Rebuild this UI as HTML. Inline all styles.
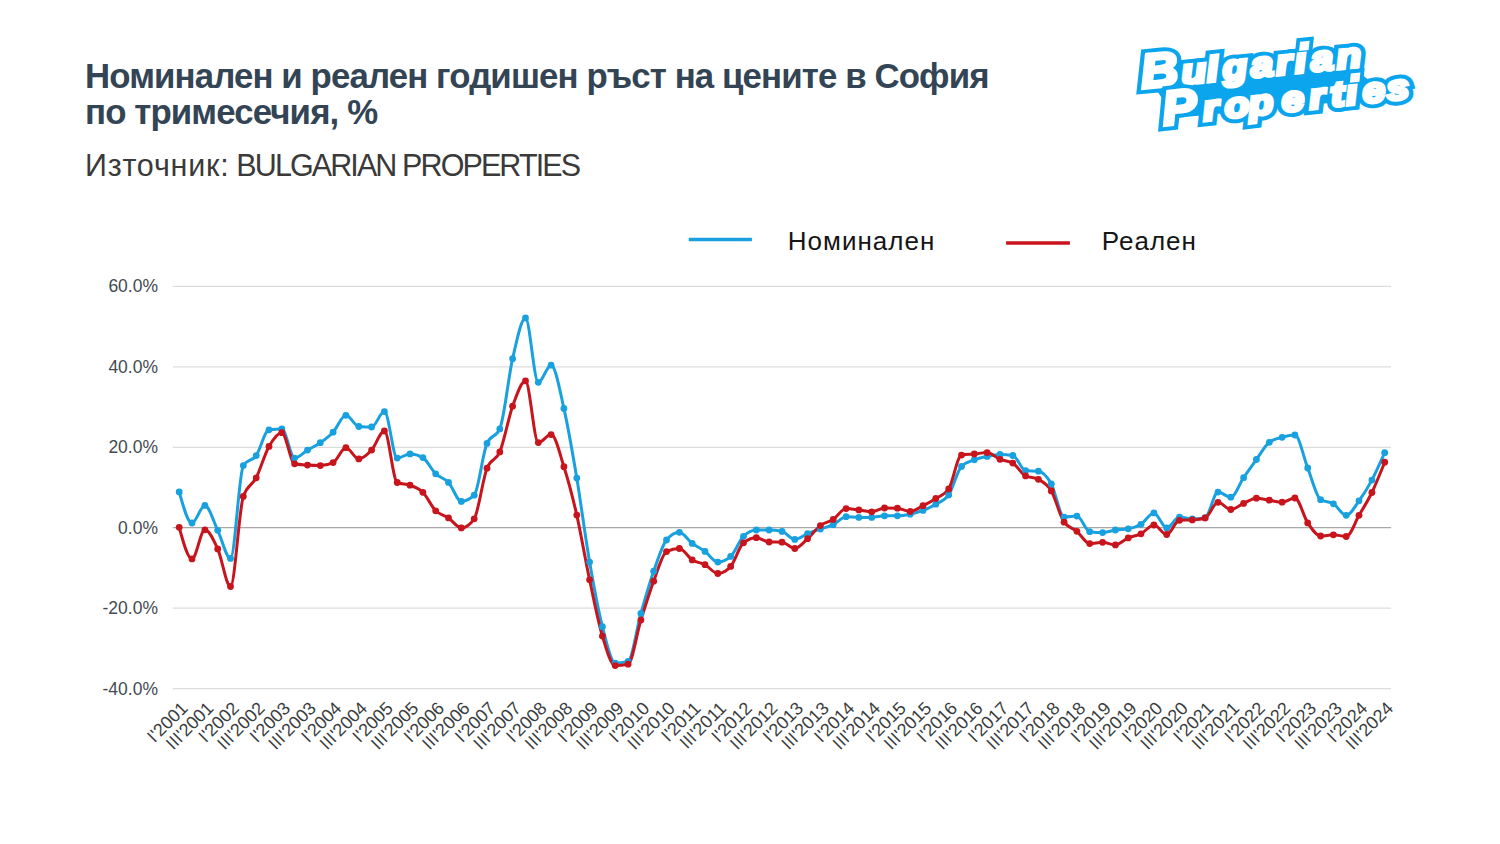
<!DOCTYPE html>
<html><head><meta charset="utf-8">
<style>
html,body{margin:0;padding:0;background:#fff;}
body{width:1500px;height:844px;overflow:hidden;position:relative;font-family:"Liberation Sans",sans-serif;}
.t1{position:absolute;left:85px;top:57.6px;font-size:34.8px;letter-spacing:-0.88px;font-weight:bold;color:#334455;line-height:36.8px;white-space:nowrap;}
.sub{position:absolute;left:85px;top:148px;font-size:30.5px;color:#3a3a3a;white-space:nowrap;}
svg{position:absolute;left:0;top:0;}
.yl{font-family:"Liberation Sans",sans-serif;font-size:17.5px;fill:#444a50;text-anchor:end;}
.xl{font-family:"Liberation Sans",sans-serif;font-size:18px;fill:#3a3d40;text-anchor:end;}
.lg{font-family:"Liberation Sans",sans-serif;font-size:26px;letter-spacing:1.0px;fill:#151515;}
.logo-o text,.logo-i text{font-family:"Liberation Sans",sans-serif;font-weight:bold;font-style:italic;}
.cap{font-size:48px;}
.lc{font-size:35px;}
.logo-o{fill:#0ba5ee;stroke:#0ba5ee;stroke-width:11.5;stroke-linejoin:miter;}
.logo-i{fill:#fff;stroke:#fff;stroke-width:3.6;stroke-linejoin:miter;}
</style></head><body>
<div class="t1">Номинален и реален годишен ръст на цените в София<br>по тримесечия, %</div>
<div class="sub"><span style="letter-spacing:0.78px">Източник:</span> <span style="letter-spacing:-1.9px;margin-left:-1.6px">BULGARIAN PROPERTIES</span></div>
<svg width="1500" height="844" viewBox="0 0 1500 844">
<line x1="172.8" y1="286.3" x2="1391.1" y2="286.3" stroke="#dcdcdc" stroke-width="1.2"/>
<text x="158" y="292.2" class="yl">60.0%</text>
<line x1="172.8" y1="366.8" x2="1391.1" y2="366.8" stroke="#dcdcdc" stroke-width="1.2"/>
<text x="158" y="372.7" class="yl">40.0%</text>
<line x1="172.8" y1="447.3" x2="1391.1" y2="447.3" stroke="#dcdcdc" stroke-width="1.2"/>
<text x="158" y="453.2" class="yl">20.0%</text>
<line x1="172.8" y1="527.7" x2="1391.1" y2="527.7" stroke="#a8a8a8" stroke-width="1.2"/>
<text x="158" y="533.6" class="yl">0.0%</text>
<line x1="172.8" y1="608.2" x2="1391.1" y2="608.2" stroke="#dcdcdc" stroke-width="1.2"/>
<text x="158" y="614.1" class="yl">-20.0%</text>
<line x1="172.8" y1="688.7" x2="1391.1" y2="688.7" stroke="#dcdcdc" stroke-width="1.2"/>
<text x="158" y="694.6" class="yl">-40.0%</text>
<text class="xl" transform="translate(188.8,709.3) rotate(-45)">I'2001</text>
<text class="xl" transform="translate(214.5,709.3) rotate(-45)">III'2001</text>
<text class="xl" transform="translate(240.1,709.3) rotate(-45)">I'2002</text>
<text class="xl" transform="translate(265.8,709.3) rotate(-45)">III'2002</text>
<text class="xl" transform="translate(291.4,709.3) rotate(-45)">I'2003</text>
<text class="xl" transform="translate(317.1,709.3) rotate(-45)">III'2003</text>
<text class="xl" transform="translate(342.7,709.3) rotate(-45)">I'2004</text>
<text class="xl" transform="translate(368.4,709.3) rotate(-45)">III'2004</text>
<text class="xl" transform="translate(394.0,709.3) rotate(-45)">I'2005</text>
<text class="xl" transform="translate(419.6,709.3) rotate(-45)">III'2005</text>
<text class="xl" transform="translate(445.3,709.3) rotate(-45)">I'2006</text>
<text class="xl" transform="translate(470.9,709.3) rotate(-45)">III'2006</text>
<text class="xl" transform="translate(496.6,709.3) rotate(-45)">I'2007</text>
<text class="xl" transform="translate(522.2,709.3) rotate(-45)">III'2007</text>
<text class="xl" transform="translate(547.9,709.3) rotate(-45)">I'2008</text>
<text class="xl" transform="translate(573.5,709.3) rotate(-45)">III'2008</text>
<text class="xl" transform="translate(599.2,709.3) rotate(-45)">I'2009</text>
<text class="xl" transform="translate(624.8,709.3) rotate(-45)">III'2009</text>
<text class="xl" transform="translate(650.5,709.3) rotate(-45)">I'2010</text>
<text class="xl" transform="translate(676.1,709.3) rotate(-45)">III'2010</text>
<text class="xl" transform="translate(701.8,709.3) rotate(-45)">I'2011</text>
<text class="xl" transform="translate(727.4,709.3) rotate(-45)">III'2011</text>
<text class="xl" transform="translate(753.1,709.3) rotate(-45)">I'2012</text>
<text class="xl" transform="translate(778.7,709.3) rotate(-45)">III'2012</text>
<text class="xl" transform="translate(804.4,709.3) rotate(-45)">I'2013</text>
<text class="xl" transform="translate(830.0,709.3) rotate(-45)">III'2013</text>
<text class="xl" transform="translate(855.7,709.3) rotate(-45)">I'2014</text>
<text class="xl" transform="translate(881.3,709.3) rotate(-45)">III'2014</text>
<text class="xl" transform="translate(907.0,709.3) rotate(-45)">I'2015</text>
<text class="xl" transform="translate(932.6,709.3) rotate(-45)">III'2015</text>
<text class="xl" transform="translate(958.3,709.3) rotate(-45)">I'2016</text>
<text class="xl" transform="translate(983.9,709.3) rotate(-45)">III'2016</text>
<text class="xl" transform="translate(1009.6,709.3) rotate(-45)">I'2017</text>
<text class="xl" transform="translate(1035.2,709.3) rotate(-45)">III'2017</text>
<text class="xl" transform="translate(1060.9,709.3) rotate(-45)">I'2018</text>
<text class="xl" transform="translate(1086.5,709.3) rotate(-45)">III'2018</text>
<text class="xl" transform="translate(1112.2,709.3) rotate(-45)">I'2019</text>
<text class="xl" transform="translate(1137.8,709.3) rotate(-45)">III'2019</text>
<text class="xl" transform="translate(1163.5,709.3) rotate(-45)">I'2020</text>
<text class="xl" transform="translate(1189.1,709.3) rotate(-45)">III'2020</text>
<text class="xl" transform="translate(1214.7,709.3) rotate(-45)">I'2021</text>
<text class="xl" transform="translate(1240.4,709.3) rotate(-45)">III'2021</text>
<text class="xl" transform="translate(1266.0,709.3) rotate(-45)">I'2022</text>
<text class="xl" transform="translate(1291.7,709.3) rotate(-45)">III'2022</text>
<text class="xl" transform="translate(1317.3,709.3) rotate(-45)">I'2023</text>
<text class="xl" transform="translate(1343.0,709.3) rotate(-45)">III'2023</text>
<text class="xl" transform="translate(1368.6,709.3) rotate(-45)">I'2024</text>
<text class="xl" transform="translate(1394.3,709.3) rotate(-45)">III'2024</text>
<path d="M179.2,491.9 C183.5,507.4 187.8,523.0 192.0,523.0 C196.3,523.0 200.6,505.4 204.9,505.4 C209.1,505.4 213.4,521.5 217.7,530.3 C222.0,539.1 226.2,558.4 230.5,558.4 C234.8,558.4 239.1,472.3 243.3,465.6 C247.6,458.9 251.9,461.6 256.2,455.6 C260.4,449.6 264.7,430.3 269.0,429.8 C273.3,429.3 277.5,429.0 281.8,429.0 C286.1,429.0 290.4,458.1 294.6,458.1 C298.9,458.1 303.2,452.7 307.5,450.1 C311.7,447.6 316.0,445.7 320.3,442.7 C324.6,439.7 328.8,436.8 333.1,432.2 C337.4,427.6 341.7,415.3 345.9,415.3 C350.2,415.3 354.5,426.2 358.8,426.5 C363.0,426.8 367.3,427.0 371.6,427.0 C375.8,427.0 380.1,411.6 384.4,411.6 C388.7,411.6 392.9,458.1 397.2,458.1 C401.5,458.1 405.8,453.9 410.0,453.9 C414.3,453.9 418.6,455.1 422.9,457.6 C427.1,460.1 431.4,469.7 435.7,473.8 C440.0,477.9 444.2,477.8 448.5,482.4 C452.8,487.0 457.1,501.4 461.3,501.4 C465.6,501.4 469.9,499.3 474.2,495.2 C478.4,491.1 482.7,453.1 487.0,443.4 C491.3,433.7 495.5,438.6 499.8,428.9 C504.1,419.2 508.4,377.2 512.6,358.7 C516.9,340.2 521.2,318.0 525.5,318.0 C529.7,318.0 534.0,382.3 538.3,382.3 C542.6,382.3 546.8,365.2 551.1,365.2 C555.4,365.2 559.7,389.6 563.9,408.4 C568.2,427.2 572.5,452.5 576.8,478.1 C581.0,503.7 585.3,537.3 589.6,562.1 C593.9,586.9 598.1,609.9 602.4,626.7 C606.7,643.5 611.0,663.1 615.2,663.1 C619.5,663.1 623.8,662.5 628.1,661.4 C632.3,660.3 636.6,628.4 640.9,613.4 C645.2,598.4 649.4,583.4 653.7,571.2 C658.0,559.0 662.3,545.1 666.5,540.0 C670.8,534.9 675.1,532.3 679.4,532.3 C683.6,532.3 687.9,540.2 692.2,543.4 C696.5,546.6 700.7,548.3 705.0,551.4 C709.3,554.5 713.6,562.1 717.8,562.1 C722.1,562.1 726.4,560.2 730.7,556.4 C734.9,552.6 739.2,540.5 743.5,536.3 C747.8,532.1 752.0,530.0 756.3,530.0 C760.6,530.0 764.9,530.0 769.1,530.0 C773.4,530.0 777.7,530.5 782.0,531.4 C786.2,532.3 790.5,539.4 794.8,539.4 C799.0,539.4 803.3,535.3 807.6,533.6 C811.9,531.9 816.1,530.5 820.4,529.0 C824.7,527.5 829.0,526.8 833.2,524.7 C837.5,522.6 841.8,516.7 846.1,516.7 C850.3,516.7 854.6,517.4 858.9,517.4 C863.2,517.4 867.4,517.4 871.7,517.4 C876.0,517.4 880.3,515.8 884.5,515.8 C888.8,515.8 893.1,515.8 897.4,515.8 C901.6,515.8 905.9,515.1 910.2,514.2 C914.5,513.3 918.7,512.1 923.0,510.4 C927.3,508.7 931.6,506.8 935.8,504.2 C940.1,501.6 944.4,501.1 948.7,494.9 C952.9,488.7 957.2,470.8 961.5,466.4 C965.8,462.0 970.0,461.5 974.3,459.8 C978.6,458.1 982.9,457.3 987.1,456.4 C991.4,455.5 995.7,454.5 1000.0,454.5 C1004.2,454.5 1008.5,454.8 1012.8,455.5 C1017.1,456.2 1021.3,470.2 1025.6,470.6 C1029.9,471.0 1034.2,470.8 1038.4,471.2 C1042.7,471.6 1047.0,476.2 1051.3,483.9 C1055.5,491.5 1059.8,517.1 1064.1,517.1 C1068.4,517.1 1072.6,516.1 1076.9,516.1 C1081.2,516.1 1085.5,531.1 1089.7,531.7 C1094.0,532.3 1098.3,532.6 1102.6,532.6 C1106.8,532.6 1111.1,530.6 1115.4,530.0 C1119.7,529.4 1123.9,529.6 1128.2,528.8 C1132.5,528.0 1136.8,526.9 1141.0,524.3 C1145.3,521.6 1149.6,512.9 1153.9,512.9 C1158.1,512.9 1162.4,527.9 1166.7,527.9 C1171.0,527.9 1175.2,517.1 1179.5,517.1 C1183.8,517.1 1188.0,519.0 1192.3,519.0 C1196.6,519.0 1200.9,518.6 1205.1,517.7 C1209.4,516.8 1213.7,492.1 1218.0,492.1 C1222.2,492.1 1226.5,497.2 1230.8,497.2 C1235.1,497.2 1239.3,484.0 1243.6,477.7 C1247.9,471.4 1252.2,465.4 1256.4,459.5 C1260.7,453.6 1265.0,445.6 1269.3,442.3 C1273.5,439.0 1277.8,438.5 1282.1,437.3 C1286.4,436.1 1290.6,435.0 1294.9,435.0 C1299.2,435.0 1303.5,457.2 1307.7,468.0 C1312.0,478.8 1316.3,497.0 1320.6,499.7 C1324.8,502.4 1329.1,501.2 1333.4,503.8 C1337.7,506.4 1341.9,515.3 1346.2,515.3 C1350.5,515.3 1354.8,506.7 1359.0,500.8 C1363.3,494.9 1367.6,488.1 1371.9,480.1 C1376.1,472.1 1380.4,462.4 1384.7,452.7" fill="none" stroke="#18a1de" stroke-width="3" stroke-linejoin="round"/>
<path d="M179.2,527.3 C183.5,543.1 187.8,558.9 192.0,558.9 C196.3,558.9 200.6,529.8 204.9,529.8 C209.1,529.8 213.4,539.4 217.7,548.9 C222.0,558.4 226.2,586.5 230.5,586.5 C234.8,586.5 239.1,508.8 243.3,496.4 C247.6,484.0 251.9,486.1 256.2,477.8 C260.4,469.5 264.7,453.9 269.0,446.4 C273.3,438.9 277.5,432.7 281.8,432.7 C286.1,432.7 290.4,462.9 294.6,463.8 C298.9,464.7 303.2,464.8 307.5,465.1 C311.7,465.4 316.0,465.6 320.3,465.6 C324.6,465.6 328.8,464.6 333.1,462.6 C337.4,460.6 341.7,447.7 345.9,447.7 C350.2,447.7 354.5,458.9 358.8,458.9 C363.0,458.9 367.3,454.8 371.6,450.1 C375.8,445.5 380.1,431.0 384.4,431.0 C388.7,431.0 392.9,480.7 397.2,482.5 C401.5,484.3 405.8,483.6 410.0,485.2 C414.3,486.8 418.6,488.0 422.9,492.3 C427.1,496.6 431.4,506.5 435.7,510.8 C440.0,515.1 444.2,515.0 448.5,517.9 C452.8,520.8 457.1,527.9 461.3,527.9 C465.6,527.9 469.9,524.9 474.2,518.8 C478.4,512.7 482.7,479.1 487.0,468.2 C491.3,457.3 495.5,462.2 499.8,451.9 C504.1,441.6 508.4,418.0 512.6,406.2 C516.9,394.4 521.2,380.9 525.5,380.9 C529.7,380.9 534.0,442.6 538.3,442.6 C542.6,442.6 546.8,434.6 551.1,434.6 C555.4,434.6 559.7,453.3 563.9,466.7 C568.2,480.1 572.5,496.3 576.8,515.1 C581.0,534.0 585.3,559.6 589.6,579.8 C593.9,600.0 598.1,621.8 602.4,636.1 C606.7,650.4 611.0,665.6 615.2,665.6 C619.5,665.6 623.8,665.1 628.1,664.2 C632.3,663.3 636.6,633.9 640.9,620.1 C645.2,606.3 649.4,592.6 653.7,581.2 C658.0,569.8 662.3,553.7 666.5,551.6 C670.8,549.5 675.1,548.5 679.4,548.5 C683.6,548.5 687.9,557.2 692.2,559.9 C696.5,562.6 700.7,562.4 705.0,564.7 C709.3,567.0 713.6,573.5 717.8,573.5 C722.1,573.5 726.4,571.1 730.7,566.4 C734.9,561.7 739.2,546.2 743.5,542.8 C747.8,539.4 752.0,537.7 756.3,537.7 C760.6,537.7 764.9,541.9 769.1,542.0 C773.4,542.1 777.7,542.1 782.0,542.2 C786.2,542.3 790.5,548.5 794.8,548.5 C799.0,548.5 803.3,542.5 807.6,538.7 C811.9,534.9 816.1,528.8 820.4,525.6 C824.7,522.4 829.0,522.2 833.2,519.4 C837.5,516.6 841.8,508.6 846.1,508.6 C850.3,508.6 854.6,509.4 858.9,509.9 C863.2,510.4 867.4,511.8 871.7,511.8 C876.0,511.8 880.3,508.0 884.5,508.0 C888.8,508.0 893.1,508.1 897.4,508.2 C901.6,508.3 905.9,511.4 910.2,511.4 C914.5,511.4 918.7,507.8 923.0,505.7 C927.3,503.5 931.6,501.3 935.8,498.5 C940.1,495.7 944.4,495.3 948.7,489.0 C952.9,482.7 957.2,455.8 961.5,455.1 C965.8,454.4 970.0,454.4 974.3,454.0 C978.6,453.6 982.9,452.6 987.1,452.6 C991.4,452.6 995.7,457.5 1000.0,459.3 C1004.2,461.0 1008.5,460.6 1012.8,463.1 C1017.1,465.6 1021.3,473.6 1025.6,475.9 C1029.9,478.2 1034.2,477.0 1038.4,479.3 C1042.7,481.6 1047.0,483.7 1051.3,490.9 C1055.5,498.0 1059.8,516.1 1064.1,522.2 C1068.4,528.3 1072.6,527.7 1076.9,531.3 C1081.2,534.9 1085.5,543.6 1089.7,543.6 C1094.0,543.6 1098.3,542.3 1102.6,542.3 C1106.8,542.3 1111.1,544.9 1115.4,544.9 C1119.7,544.9 1123.9,539.8 1128.2,537.9 C1132.5,536.0 1136.8,535.9 1141.0,533.8 C1145.3,531.6 1149.6,525.0 1153.9,525.0 C1158.1,525.0 1162.4,534.5 1166.7,534.5 C1171.0,534.5 1175.2,520.6 1179.5,520.3 C1183.8,520.0 1188.0,520.2 1192.3,519.9 C1196.6,519.6 1200.9,519.3 1205.1,518.0 C1209.4,516.7 1213.7,502.3 1218.0,502.3 C1222.2,502.3 1226.5,509.5 1230.8,509.5 C1235.1,509.5 1239.3,505.3 1243.6,503.4 C1247.9,501.5 1252.2,498.2 1256.4,498.2 C1260.7,498.2 1265.0,499.5 1269.3,500.2 C1273.5,500.9 1277.8,502.2 1282.1,502.2 C1286.4,502.2 1290.6,498.0 1294.9,498.0 C1299.2,498.0 1303.5,516.6 1307.7,522.9 C1312.0,529.2 1316.3,536.0 1320.6,536.0 C1324.8,536.0 1329.1,534.8 1333.4,534.8 C1337.7,534.8 1341.9,536.5 1346.2,536.5 C1350.5,536.5 1354.8,522.6 1359.0,515.3 C1363.3,508.0 1367.6,501.4 1371.9,492.5 C1376.1,483.6 1380.4,472.9 1384.7,462.2" fill="none" stroke="#c8141c" stroke-width="3" stroke-linejoin="round"/>
<g fill="#18a1de"><circle cx="179.2" cy="491.9" r="3.4"/><circle cx="192.0" cy="523.0" r="3.4"/><circle cx="204.9" cy="505.4" r="3.4"/><circle cx="217.7" cy="530.3" r="3.4"/><circle cx="230.5" cy="558.4" r="3.4"/><circle cx="243.3" cy="465.6" r="3.4"/><circle cx="256.2" cy="455.6" r="3.4"/><circle cx="269.0" cy="429.8" r="3.4"/><circle cx="281.8" cy="429.0" r="3.4"/><circle cx="294.6" cy="458.1" r="3.4"/><circle cx="307.5" cy="450.1" r="3.4"/><circle cx="320.3" cy="442.7" r="3.4"/><circle cx="333.1" cy="432.2" r="3.4"/><circle cx="345.9" cy="415.3" r="3.4"/><circle cx="358.8" cy="426.5" r="3.4"/><circle cx="371.6" cy="427.0" r="3.4"/><circle cx="384.4" cy="411.6" r="3.4"/><circle cx="397.2" cy="458.1" r="3.4"/><circle cx="410.0" cy="453.9" r="3.4"/><circle cx="422.9" cy="457.6" r="3.4"/><circle cx="435.7" cy="473.8" r="3.4"/><circle cx="448.5" cy="482.4" r="3.4"/><circle cx="461.3" cy="501.4" r="3.4"/><circle cx="474.2" cy="495.2" r="3.4"/><circle cx="487.0" cy="443.4" r="3.4"/><circle cx="499.8" cy="428.9" r="3.4"/><circle cx="512.6" cy="358.7" r="3.4"/><circle cx="525.5" cy="318.0" r="3.4"/><circle cx="538.3" cy="382.3" r="3.4"/><circle cx="551.1" cy="365.2" r="3.4"/><circle cx="563.9" cy="408.4" r="3.4"/><circle cx="576.8" cy="478.1" r="3.4"/><circle cx="589.6" cy="562.1" r="3.4"/><circle cx="602.4" cy="626.7" r="3.4"/><circle cx="615.2" cy="663.1" r="3.4"/><circle cx="628.1" cy="661.4" r="3.4"/><circle cx="640.9" cy="613.4" r="3.4"/><circle cx="653.7" cy="571.2" r="3.4"/><circle cx="666.5" cy="540.0" r="3.4"/><circle cx="679.4" cy="532.3" r="3.4"/><circle cx="692.2" cy="543.4" r="3.4"/><circle cx="705.0" cy="551.4" r="3.4"/><circle cx="717.8" cy="562.1" r="3.4"/><circle cx="730.7" cy="556.4" r="3.4"/><circle cx="743.5" cy="536.3" r="3.4"/><circle cx="756.3" cy="530.0" r="3.4"/><circle cx="769.1" cy="530.0" r="3.4"/><circle cx="782.0" cy="531.4" r="3.4"/><circle cx="794.8" cy="539.4" r="3.4"/><circle cx="807.6" cy="533.6" r="3.4"/><circle cx="820.4" cy="529.0" r="3.4"/><circle cx="833.2" cy="524.7" r="3.4"/><circle cx="846.1" cy="516.7" r="3.4"/><circle cx="858.9" cy="517.4" r="3.4"/><circle cx="871.7" cy="517.4" r="3.4"/><circle cx="884.5" cy="515.8" r="3.4"/><circle cx="897.4" cy="515.8" r="3.4"/><circle cx="910.2" cy="514.2" r="3.4"/><circle cx="923.0" cy="510.4" r="3.4"/><circle cx="935.8" cy="504.2" r="3.4"/><circle cx="948.7" cy="494.9" r="3.4"/><circle cx="961.5" cy="466.4" r="3.4"/><circle cx="974.3" cy="459.8" r="3.4"/><circle cx="987.1" cy="456.4" r="3.4"/><circle cx="1000.0" cy="454.5" r="3.4"/><circle cx="1012.8" cy="455.5" r="3.4"/><circle cx="1025.6" cy="470.6" r="3.4"/><circle cx="1038.4" cy="471.2" r="3.4"/><circle cx="1051.3" cy="483.9" r="3.4"/><circle cx="1064.1" cy="517.1" r="3.4"/><circle cx="1076.9" cy="516.1" r="3.4"/><circle cx="1089.7" cy="531.7" r="3.4"/><circle cx="1102.6" cy="532.6" r="3.4"/><circle cx="1115.4" cy="530.0" r="3.4"/><circle cx="1128.2" cy="528.8" r="3.4"/><circle cx="1141.0" cy="524.3" r="3.4"/><circle cx="1153.9" cy="512.9" r="3.4"/><circle cx="1166.7" cy="527.9" r="3.4"/><circle cx="1179.5" cy="517.1" r="3.4"/><circle cx="1192.3" cy="519.0" r="3.4"/><circle cx="1205.1" cy="517.7" r="3.4"/><circle cx="1218.0" cy="492.1" r="3.4"/><circle cx="1230.8" cy="497.2" r="3.4"/><circle cx="1243.6" cy="477.7" r="3.4"/><circle cx="1256.4" cy="459.5" r="3.4"/><circle cx="1269.3" cy="442.3" r="3.4"/><circle cx="1282.1" cy="437.3" r="3.4"/><circle cx="1294.9" cy="435.0" r="3.4"/><circle cx="1307.7" cy="468.0" r="3.4"/><circle cx="1320.6" cy="499.7" r="3.4"/><circle cx="1333.4" cy="503.8" r="3.4"/><circle cx="1346.2" cy="515.3" r="3.4"/><circle cx="1359.0" cy="500.8" r="3.4"/><circle cx="1371.9" cy="480.1" r="3.4"/><circle cx="1384.7" cy="452.7" r="3.4"/></g>
<g fill="#c8141c"><circle cx="179.2" cy="527.3" r="3.4"/><circle cx="192.0" cy="558.9" r="3.4"/><circle cx="204.9" cy="529.8" r="3.4"/><circle cx="217.7" cy="548.9" r="3.4"/><circle cx="230.5" cy="586.5" r="3.4"/><circle cx="243.3" cy="496.4" r="3.4"/><circle cx="256.2" cy="477.8" r="3.4"/><circle cx="269.0" cy="446.4" r="3.4"/><circle cx="281.8" cy="432.7" r="3.4"/><circle cx="294.6" cy="463.8" r="3.4"/><circle cx="307.5" cy="465.1" r="3.4"/><circle cx="320.3" cy="465.6" r="3.4"/><circle cx="333.1" cy="462.6" r="3.4"/><circle cx="345.9" cy="447.7" r="3.4"/><circle cx="358.8" cy="458.9" r="3.4"/><circle cx="371.6" cy="450.1" r="3.4"/><circle cx="384.4" cy="431.0" r="3.4"/><circle cx="397.2" cy="482.5" r="3.4"/><circle cx="410.0" cy="485.2" r="3.4"/><circle cx="422.9" cy="492.3" r="3.4"/><circle cx="435.7" cy="510.8" r="3.4"/><circle cx="448.5" cy="517.9" r="3.4"/><circle cx="461.3" cy="527.9" r="3.4"/><circle cx="474.2" cy="518.8" r="3.4"/><circle cx="487.0" cy="468.2" r="3.4"/><circle cx="499.8" cy="451.9" r="3.4"/><circle cx="512.6" cy="406.2" r="3.4"/><circle cx="525.5" cy="380.9" r="3.4"/><circle cx="538.3" cy="442.6" r="3.4"/><circle cx="551.1" cy="434.6" r="3.4"/><circle cx="563.9" cy="466.7" r="3.4"/><circle cx="576.8" cy="515.1" r="3.4"/><circle cx="589.6" cy="579.8" r="3.4"/><circle cx="602.4" cy="636.1" r="3.4"/><circle cx="615.2" cy="665.6" r="3.4"/><circle cx="628.1" cy="664.2" r="3.4"/><circle cx="640.9" cy="620.1" r="3.4"/><circle cx="653.7" cy="581.2" r="3.4"/><circle cx="666.5" cy="551.6" r="3.4"/><circle cx="679.4" cy="548.5" r="3.4"/><circle cx="692.2" cy="559.9" r="3.4"/><circle cx="705.0" cy="564.7" r="3.4"/><circle cx="717.8" cy="573.5" r="3.4"/><circle cx="730.7" cy="566.4" r="3.4"/><circle cx="743.5" cy="542.8" r="3.4"/><circle cx="756.3" cy="537.7" r="3.4"/><circle cx="769.1" cy="542.0" r="3.4"/><circle cx="782.0" cy="542.2" r="3.4"/><circle cx="794.8" cy="548.5" r="3.4"/><circle cx="807.6" cy="538.7" r="3.4"/><circle cx="820.4" cy="525.6" r="3.4"/><circle cx="833.2" cy="519.4" r="3.4"/><circle cx="846.1" cy="508.6" r="3.4"/><circle cx="858.9" cy="509.9" r="3.4"/><circle cx="871.7" cy="511.8" r="3.4"/><circle cx="884.5" cy="508.0" r="3.4"/><circle cx="897.4" cy="508.2" r="3.4"/><circle cx="910.2" cy="511.4" r="3.4"/><circle cx="923.0" cy="505.7" r="3.4"/><circle cx="935.8" cy="498.5" r="3.4"/><circle cx="948.7" cy="489.0" r="3.4"/><circle cx="961.5" cy="455.1" r="3.4"/><circle cx="974.3" cy="454.0" r="3.4"/><circle cx="987.1" cy="452.6" r="3.4"/><circle cx="1000.0" cy="459.3" r="3.4"/><circle cx="1012.8" cy="463.1" r="3.4"/><circle cx="1025.6" cy="475.9" r="3.4"/><circle cx="1038.4" cy="479.3" r="3.4"/><circle cx="1051.3" cy="490.9" r="3.4"/><circle cx="1064.1" cy="522.2" r="3.4"/><circle cx="1076.9" cy="531.3" r="3.4"/><circle cx="1089.7" cy="543.6" r="3.4"/><circle cx="1102.6" cy="542.3" r="3.4"/><circle cx="1115.4" cy="544.9" r="3.4"/><circle cx="1128.2" cy="537.9" r="3.4"/><circle cx="1141.0" cy="533.8" r="3.4"/><circle cx="1153.9" cy="525.0" r="3.4"/><circle cx="1166.7" cy="534.5" r="3.4"/><circle cx="1179.5" cy="520.3" r="3.4"/><circle cx="1192.3" cy="519.9" r="3.4"/><circle cx="1205.1" cy="518.0" r="3.4"/><circle cx="1218.0" cy="502.3" r="3.4"/><circle cx="1230.8" cy="509.5" r="3.4"/><circle cx="1243.6" cy="503.4" r="3.4"/><circle cx="1256.4" cy="498.2" r="3.4"/><circle cx="1269.3" cy="500.2" r="3.4"/><circle cx="1282.1" cy="502.2" r="3.4"/><circle cx="1294.9" cy="498.0" r="3.4"/><circle cx="1307.7" cy="522.9" r="3.4"/><circle cx="1320.6" cy="536.0" r="3.4"/><circle cx="1333.4" cy="534.8" r="3.4"/><circle cx="1346.2" cy="536.5" r="3.4"/><circle cx="1359.0" cy="515.3" r="3.4"/><circle cx="1371.9" cy="492.5" r="3.4"/><circle cx="1384.7" cy="462.2" r="3.4"/></g>
<line x1="688.7" y1="239.4" x2="751.9" y2="239.4" stroke="#18a1de" stroke-width="3.5"/>
<text x="787.8" y="249.8" class="lg">Номинален</text>
<line x1="1006.1" y1="243" x2="1069.9" y2="243" stroke="#c8141c" stroke-width="3.5"/>
<text x="1101.8" y="249.8" class="lg">Реален</text><polygon points="1150,80 1350,66 1392,97 1175,118" fill="#0ba5ee"/><g transform="translate(1141.0,88.3) rotate(-5.60)"><g class="logo-o"><text transform="translate(20.0,0) scale(1.08,1)" class="cap" text-anchor="middle">B</text><text transform="translate(54.1,0) scale(1.15,1)" class="lc" text-anchor="middle">u</text><text transform="translate(72.7,0) scale(1.15,1)" class="lc" text-anchor="middle">l</text><text transform="translate(95.3,0) scale(1.15,1)" class="lc" text-anchor="middle">g</text><text transform="translate(122.4,0) scale(1.15,1)" class="lc" text-anchor="middle">a</text><text transform="translate(144.5,0) scale(1.15,1)" class="lc" text-anchor="middle">r</text><text transform="translate(161.1,0) scale(1.15,1)" class="lc" text-anchor="middle">ı</text><rect x="158.1" y="-29" width="6" height="5.5" transform="skewX(-12)"/><text transform="translate(182.7,0) scale(1.15,1)" class="lc" text-anchor="middle">a</text><text transform="translate(209.8,0) scale(1.15,1)" class="lc" text-anchor="middle">n</text></g><g class="logo-i"><text transform="translate(20.0,0) scale(1.08,1)" class="cap" text-anchor="middle">B</text><text transform="translate(54.1,0) scale(1.15,1)" class="lc" text-anchor="middle">u</text><text transform="translate(72.7,0) scale(1.15,1)" class="lc" text-anchor="middle">l</text><text transform="translate(95.3,0) scale(1.15,1)" class="lc" text-anchor="middle">g</text><text transform="translate(122.4,0) scale(1.15,1)" class="lc" text-anchor="middle">a</text><text transform="translate(144.5,0) scale(1.15,1)" class="lc" text-anchor="middle">r</text><text transform="translate(161.1,0) scale(1.15,1)" class="lc" text-anchor="middle">ı</text><rect x="158.1" y="-29" width="6" height="5.5" transform="skewX(-12)"/><text transform="translate(182.7,0) scale(1.15,1)" class="lc" text-anchor="middle">a</text><text transform="translate(209.8,0) scale(1.15,1)" class="lc" text-anchor="middle">n</text></g></g><g transform="translate(1163.0,125.3) rotate(-6.30)"><g class="logo-o"><text transform="translate(18.3,0) scale(1.08,1)" class="cap" text-anchor="middle">P</text><text transform="translate(49.2,0) scale(1.15,1)" class="lc" text-anchor="middle">r</text><text transform="translate(75.4,0) scale(1.15,1)" class="lc" text-anchor="middle">o</text><text transform="translate(99.5,0) scale(1.15,1)" class="lc" text-anchor="middle">p</text><text transform="translate(131.7,0) scale(1.15,1)" class="lc" text-anchor="middle">e</text><text transform="translate(155.9,0) scale(1.15,1)" class="lc" text-anchor="middle">r</text><text transform="translate(176.6,0) scale(1.15,1)" class="lc" text-anchor="middle">t</text><text transform="translate(190.6,0) scale(1.15,1)" class="lc" text-anchor="middle">ı</text><rect x="187.6" y="-29" width="6" height="5.5" transform="skewX(-12)"/><text transform="translate(213.2,0) scale(1.15,1)" class="lc" text-anchor="middle">e</text><text transform="translate(237.4,0) scale(1.15,1)" class="lc" text-anchor="middle">s</text></g><g class="logo-i"><text transform="translate(18.3,0) scale(1.08,1)" class="cap" text-anchor="middle">P</text><text transform="translate(49.2,0) scale(1.15,1)" class="lc" text-anchor="middle">r</text><text transform="translate(75.4,0) scale(1.15,1)" class="lc" text-anchor="middle">o</text><text transform="translate(99.5,0) scale(1.15,1)" class="lc" text-anchor="middle">p</text><text transform="translate(131.7,0) scale(1.15,1)" class="lc" text-anchor="middle">e</text><text transform="translate(155.9,0) scale(1.15,1)" class="lc" text-anchor="middle">r</text><text transform="translate(176.6,0) scale(1.15,1)" class="lc" text-anchor="middle">t</text><text transform="translate(190.6,0) scale(1.15,1)" class="lc" text-anchor="middle">ı</text><rect x="187.6" y="-29" width="6" height="5.5" transform="skewX(-12)"/><text transform="translate(213.2,0) scale(1.15,1)" class="lc" text-anchor="middle">e</text><text transform="translate(237.4,0) scale(1.15,1)" class="lc" text-anchor="middle">s</text></g></g>
</svg>
</body></html>
